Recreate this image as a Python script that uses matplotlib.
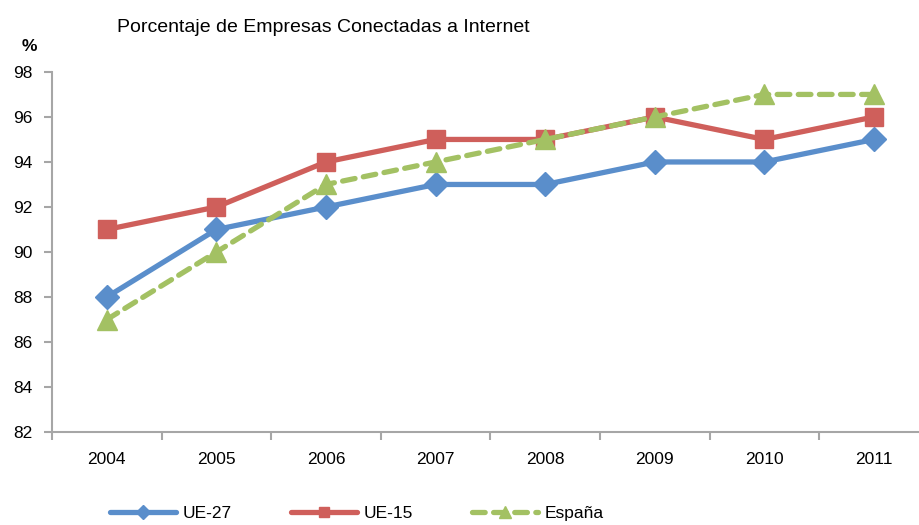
import matplotlib.pyplot as plt
import numpy as np

plt.rcParams['font.family'] = ['Liberation Sans', 'DejaVu Sans']

# data: % de empresas con conexion a Internet
years = ['2004', '2005', '2006', '2007', '2008', '2009', '2010', '2011']
ue27 = [88, 91, 92, 93, 93, 94, 94, 95]
ue15 = [91, 92, 94, 95, 95, 96, 95, 96]
espana = [87, 90, 93, 94, 95, 96, 97, 97]

x = np.arange(len(years))
axis_col = '#A6A6A6'

fig = plt.figure(figsize=(9.19, 5.25), dpi=100)
ax = fig.add_axes([0.0566, 0.177, 0.954, 0.686])

ax.plot(x, ue27, color='#5A8ECB', lw=3.8, marker='D', ms=12, label='UE-27',
        solid_capstyle='round')
ax.plot(x, ue15, color='#CF5F5B', lw=3.8, marker='s', ms=13, label='UE-15',
        solid_capstyle='round')
ax.plot(x, espana, color='#A3C163', lw=3.8, marker='^', ms=15, label='España',
        dashes=(2.4, 1.6), dash_capstyle='round')

ax.set_xlim(-0.5, 7.5)
ax.set_ylim(82, 98)
ax.set_yticks(range(82, 99, 2))
ax.set_xticks(x)
ax.set_xticklabels(years)
ax.set_xticks(np.arange(-0.5, 7.6, 1), minor=True)
ax.tick_params(axis='x', which='major', length=0, pad=14, labelsize=12.5)
ax.tick_params(axis='x', which='minor', length=6, color=axis_col, width=1.5, direction='out')
ax.tick_params(axis='y', length=6, color=axis_col, width=1.5, direction='out', pad=8,
               labelsize=12.5)

for s in ['top', 'right']:
    ax.spines[s].set_visible(False)
for s in ['left', 'bottom']:
    ax.spines[s].set_color(axis_col)
    ax.spines[s].set_linewidth(1.5)

fig.text(0.127, 0.948, 'Porcentaje de Empresas Conectadas a Internet', fontsize=14,
         va='center', ha='left')
fig.text(0.032, 0.912, '%', fontsize=12.5, fontweight='bold', va='center', ha='center')

fig.legend(loc='center left', bbox_to_anchor=(0.11, 0.022), ncol=3, frameon=False,
           fontsize=12.5, handlelength=3.8, markerscale=0.6, columnspacing=3.4,
           handletextpad=0.4, borderpad=0)

fig.savefig('out.png', dpi=100)
